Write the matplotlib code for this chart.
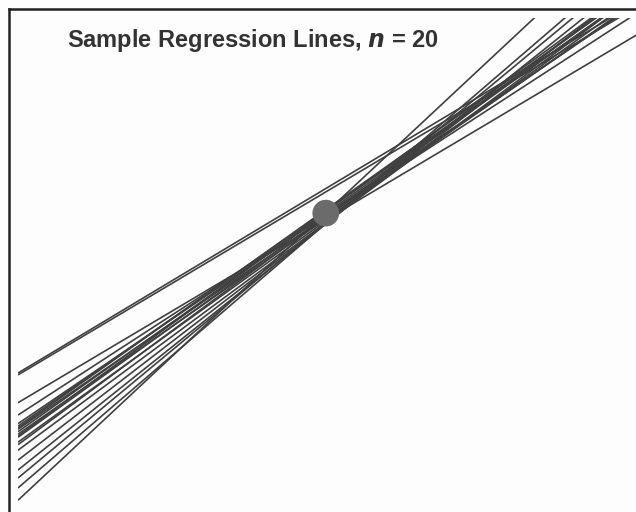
import numpy as np
import matplotlib
matplotlib.use("Agg")
from matplotlib import pyplot as plt

# sample regression lines: y = b + m x  (x from 0 to 10, y from 0 to 8)
intercepts = [2.25, 2.22, 1.77, 1.57, 1.43, 1.39, 1.34, 1.30, 1.26, 1.21,
              1.13, 1.00, 0.84, 0.68, 0.55, 0.39, 0.19, 1.36, 1.23, 1.09]
slopes = [0.60, 0.595, 0.595, 0.65, 0.68, 0.70, 0.69, 0.71, 0.70, 0.72,
          0.72, 0.74, 0.77, 0.80, 0.83, 0.86, 0.935, 0.71, 0.73, 0.74]
# population mean point
mean_x = [4.98]
mean_y = [4.84]
title = "Sample Regression Lines, $\\mathbfit{n}$ = 20"

W, H = 636, 512
fig = plt.figure(figsize=(W / 100, H / 100), dpi=100)
fig.patch.set_facecolor("#fdfdfd")

# outer frame (only left and top edges are visible in the crop)
frame = fig.add_axes([9 / W, -0.05, 1.1, (H - 9) / H + 0.05])
frame.set_facecolor("none")
for side in ["right", "bottom"]:
    frame.spines[side].set_visible(False)
for side in ["left", "top"]:
    frame.spines[side].set_linewidth(1.8)
    frame.spines[side].set_color("#222222")
frame.set_xticks([])
frame.set_yticks([])

ax = fig.add_axes([18 / W, 0, (W - 18) / W, (H - 18) / H])
ax.set_xlim(0, 10)
ax.set_ylim(0, 8)
ax.axis("off")

xs = np.array([0, 10])
for b, m in zip(intercepts, slopes):
    ax.plot(xs, b + m * xs, color="#404040", lw=1.2, solid_capstyle="butt")

ax.scatter(mean_x, mean_y, s=370, color="#6b6b6b", zorder=5, edgecolors="none")

fig.text(67 / W, 1 - 40 / H, title, fontsize=17, fontweight="bold",
         family="Liberation Sans", color="#333333", va="center", ha="left")

fig.savefig("out.png", dpi=100, facecolor=fig.get_facecolor())
